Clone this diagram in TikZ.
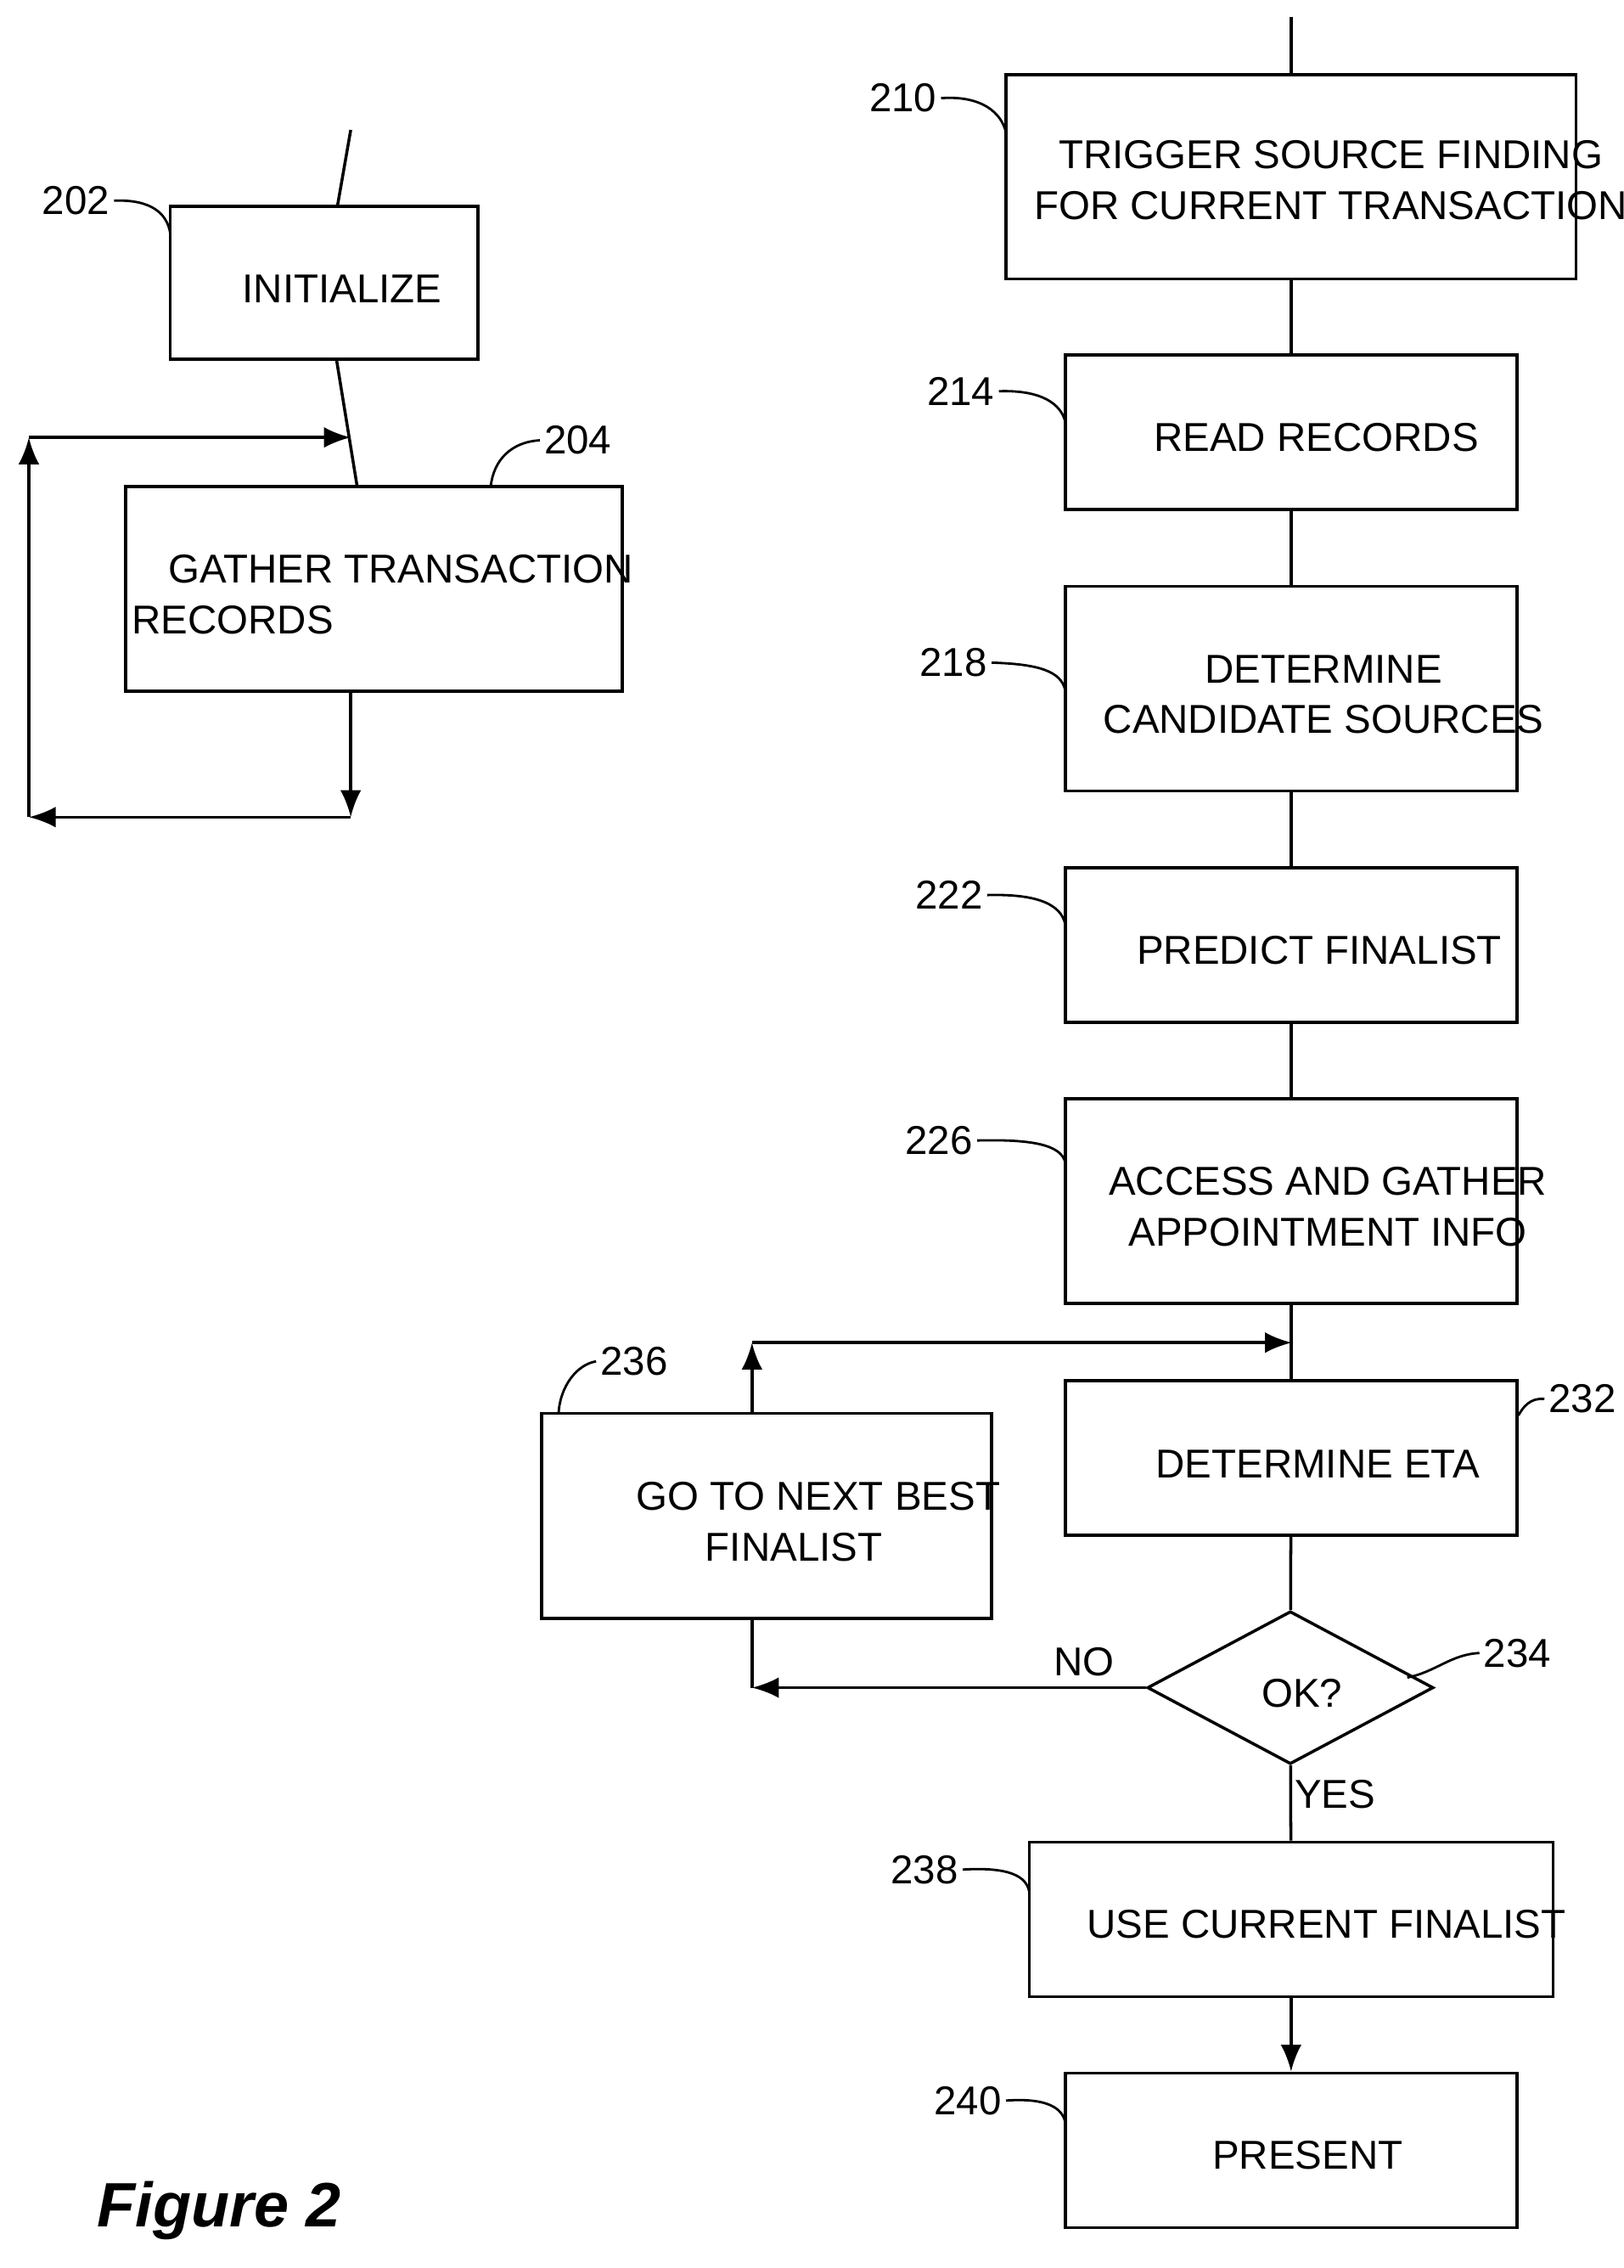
\documentclass[tikz,border=0pt]{standalone}
\usepackage{fontspec}
\setmainfont{Liberation Sans}
\usetikzlibrary{arrows.meta, shapes.geometric}

\begin{document}
\begin{tikzpicture}[x=0.017cm, y=-0.017cm,
box/.style={rectangle, draw=black, line width=1pt, inner sep=0pt,
minimum width=5.32cm, minimum height=1.82cm},
%
test/.style={diamond, draw=black, line width=1pt, inner sep=0pt,
minimum width=3.37cm, minimum height=1.80cm},
%
txt/.style={font=\fontsize{13.5}{17}\selectfont, align=center, inner sep=0pt},
%
ref/.style={font=\fontsize{13.5}{17}\selectfont, inner sep=1pt},
%
lead/.style={line width=0.8pt}]

\tikzset{every path/.style={line width=1pt}, >={Latex[length=9pt,width=7pt]}}

\useasboundingbox (0,0) rectangle (1125,1571);

%%%%%%%%%%%%%%%%%%%%%%%%%%%%%% boxes
\node [box, minimum width=6.715cm, minimum height=2.40cm] (b210) at (894.5,122.5) {};
\node [box] (b214) at (894.5,299.5) {};
\node [box, minimum height=2.41cm] (b218) at (894.5,477) {};
\node [box] (b222) at (894.5,654.5) {};
\node [box, minimum height=2.41cm] (b226) at (894.5,832) {};
\node [box] (b232) at (894.5,1010) {};
\node [test] (b234) at (894,1169) {};
\node [box, minimum width=6.17cm] (b238) at (894.5,1329.5) {};
\node [box] (b240) at (894.5,1489.5) {};
\node [box, minimum width=5.30cm, minimum height=2.41cm] (b236) at (531,1050) {};
\node [box, minimum width=3.62cm, minimum height=1.80cm] (b202) at (224.5,196) {};
\node [box, minimum width=5.85cm, minimum height=2.41cm] (b204) at (259,408) {};

%%%%%%%%%%%%%%%%%%%%%%%%%%%%%% texts
\node [txt] (t210) at (922,125) {TRIGGER SOURCE FINDING\\FOR CURRENT TRANSACTION};
\node [txt] (t214) at (912,303) {READ RECORDS};
\node [txt] (t218) at (917,481) {DETERMINE\\CANDIDATE SOURCES};
\node [txt] (t222) at (914,658) {PREDICT FINALIST};
\node [txt] (t226) at (920,836) {ACCESS AND GATHER\\APPOINTMENT INFO};
\node [txt] (t232) at (913,1014) {DETERMINE ETA};
\node [txt] (t234) at (902,1173) {OK?};
\node [txt] (t238) at (919,1333) {USE CURRENT FINALIST};
\node [txt] (t240) at (906,1493) {PRESENT};
\node [txt] (t236) at (550,1054) {\hspace*{1.2em}GO TO NEXT BEST\\FINALIST};
\node [txt] (t202) at (237,200) {INITIALIZE};
\node [txt, align=left] (t204) at (265,412) {\hspace*{0.9em}GATHER TRANSACTION\\RECORDS};
\node [txt] (tno) at (751,1151) {NO};
\node [txt] (tyes) at (925,1243) {YES};
\node [font=\bfseries\itshape\fontsize{21}{25}\selectfont, inner sep=0pt] (fig) at (152,1531) {Figure 2};

%%%%%%%%%%%%%%%%%%%%%%%%%%%%%% free ends
\coordinate (in210) at (894.5,12);
\coordinate (in202) at (243,90);
\coordinate (loopR) at (895,930);
\coordinate (loopL) at (521,930);
\coordinate (noL) at (521,1169);
\coordinate (join204) at (243,303);
\coordinate (outL) at (20,303);
\coordinate (out204) at (243,566);
\coordinate (backL) at (20,566);

%%%%%%%%%%%%%%%%%%%%%%%%%%%%%% connectors
\draw (in210) -- (b210);
\draw (b210) -- (b214);
\draw (b214) -- (b218);
\draw (b218) -- (b222);
\draw (b222) -- (b226);
\draw (b226) -- (b232);
\draw (b232) -- (b234);
\draw (b234) -- (b238);
\draw [->] (b238) -- (b240);
\draw [->] (b234.west) -- (noL);
\draw (noL) -- (b236.south -| noL);
\draw [->] (b236.north -| loopL) -- (loopL);
\draw [->] (loopL) -- (loopR);
%%%%%%%%%%%%%%%%%%%%%%%%%%%%%%
\draw (in202) -- (b202);
\draw (b202) -- (b204);
\draw [->] (backL) -- (outL);
\draw [->] (outL) -- (join204);
\draw [->] (b204.south -| out204) -- (out204);
\draw [->] (out204) -- (backL);

%%%%%%%%%%%%%%%%%%%%%%%%%%%%%% reference numbers
\node [ref, left] (r210) at (652,68) {210};
\draw [lead] (r210.east) .. controls (680,66) and (694,78) .. (697,92);
\node [ref, left] (r214) at (692,271) {214};
\draw [lead] (r214.east) .. controls (722,270) and (735,280) .. (738,292);
\node [ref, left] (r218) at (687,459) {218};
\draw [lead] (r218.east) .. controls (720,460) and (735,465) .. (738,478);
\node [ref, left] (r222) at (684,620) {222};
\draw [lead] (r222.east) .. controls (720,619) and (735,627) .. (738,640);
\node [ref, left] (r226) at (677,790) {226};
\draw [lead] (r226.east) .. controls (715,789) and (735,793) .. (738,805);
\node [ref, right] (r232) at (1070,969) {232};
\draw [lead] (b232.north east) ++(0,25) .. controls (1055,975) and (1060,968) .. (r232.west);
\node [ref, right] (r234) at (1025,1145) {234};
\draw [lead] (975,1162) .. controls (995,1158) and (1005,1146) .. (r234.west);
\node [ref, right] (r236) at (413,943) {236};
\draw [lead] (387,979) .. controls (388,960) and (400,945) .. (r236.west);
\node [ref, left] (r238) at (667,1295) {238};
\draw [lead] (r238.east) .. controls (700,1293) and (711,1300) .. (713,1310);
\node [ref, left] (r240) at (697,1455) {240};
\draw [lead] (r240.east) .. controls (725,1453) and (736,1460) .. (738,1470);
\node [ref, left] (r202) at (79,139) {202};
\draw [lead] (r202.east) .. controls (105,138) and (116,148) .. (118,162);
\node [ref, right] (r204) at (374,305) {204};
\draw [lead] (340,337) .. controls (342,318) and (355,306) .. (r204.west);

\end{tikzpicture}
\end{document}
